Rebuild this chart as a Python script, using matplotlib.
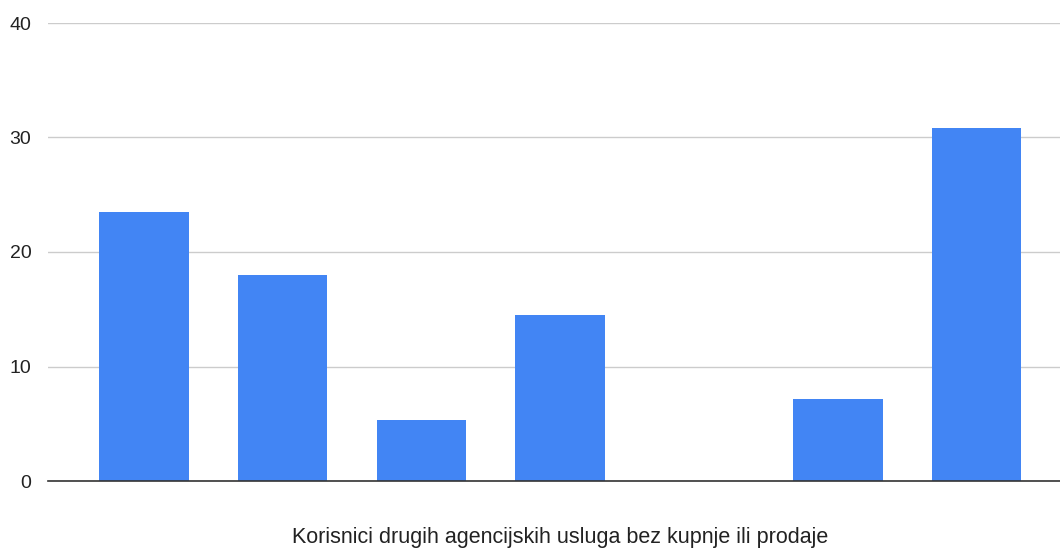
import matplotlib.pyplot as plt
import numpy as np

plt.rcParams['font.family'] = ['Liberation Sans', 'DejaVu Sans']

# bar values, fifth slot is empty
values = [23.5, 18.0, 5.35, 14.5, 0, 7.15, 30.8]
y_ticks = [0, 10, 20, 30, 40]
x_title = "Korisnici drugih agencijskih usluga bez kupnje ili prodaje"

x = np.arange(len(values))

fig = plt.figure(figsize=(10.6, 5.49), dpi=100)
ax = fig.add_axes([48 / 1060, 1 - 481 / 549, 1 - 48 / 1060, (481 - 23) / 549])

ax.bar(x, values, width=0.645, color='#4285F4', zorder=3)

ax.set_ylim(0, 40)
ax.set_xlim(-0.69, 6.6)
ax.set_yticks(y_ticks)
ax.set_xticks([])
ax.yaxis.grid(True, color='#cccccc', linewidth=1)
ax.set_axisbelow(True)

for s in ['top', 'right', 'left']:
    ax.spines[s].set_visible(False)
ax.spines['bottom'].set_color('#333333')
ax.spines['bottom'].set_linewidth(1.2)
ax.spines['bottom'].set_zorder(4)

ax.tick_params(axis='y', length=0, labelsize=14, pad=12, labelcolor='#222222')

# x title sits below the plot area
fig.text(560 / 1060, 1 - 537 / 549, x_title, fontsize=15.5, color='#222222',
         ha='center', va='center')

fig.savefig('out.png', dpi=100)
